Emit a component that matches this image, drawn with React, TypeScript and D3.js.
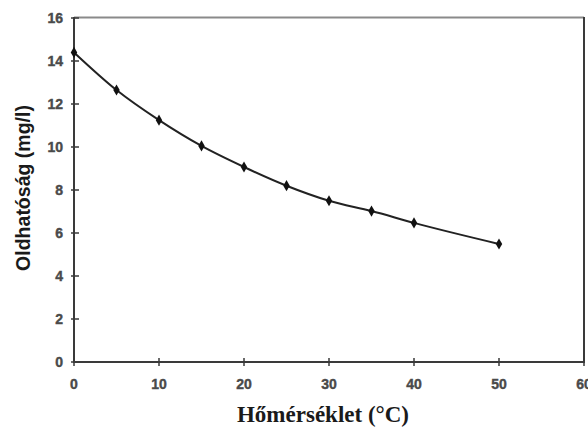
import React, { useRef, useEffect } from 'react';
import * as d3 from 'd3';

// Oxygen solubility in water vs temperature
const temps = [0, 5, 10, 15, 20, 25, 30, 35, 40, 50];
const solubility = [14.4, 12.65, 11.25, 10.05, 9.07, 8.2, 7.5, 7.02, 6.47, 5.49];
const xTicks = [0, 10, 20, 30, 40, 50, 60];
const yTicks = [0, 2, 4, 6, 8, 10, 12, 14, 16];

const width = 588;
const height = 428;

const App = () => {
  const svgRef = useRef<SVGSVGElement | null>(null);

  useEffect(() => {
    if (!svgRef.current) return;
    const svg = d3.select(svgRef.current);
    svg.selectAll('*').remove();

    const margin = { top: 18, right: 4, bottom: 66, left: 74 };
    const innerWidth = width - margin.left - margin.right;
    const innerHeight = height - margin.top - margin.bottom;

    const x = d3.scaleLinear().domain([0, 60]).range([0, innerWidth]);
    const y = d3.scaleLinear().domain([0, 16]).range([innerHeight, 0]);

    const g = svg.append('g').attr('transform', `translate(${margin.left}, ${margin.top})`);

    // frame: top (light) and right (dark)
    g.append('line')
      .attr('x1', 0).attr('x2', innerWidth)
      .attr('y1', -0.5).attr('y2', -0.5)
      .attr('stroke', '#8a8a8a').attr('stroke-width', 2);
    g.append('line')
      .attr('x1', innerWidth).attr('x2', innerWidth)
      .attr('y1', -1).attr('y2', innerHeight)
      .attr('stroke', '#3a3a3a').attr('stroke-width', 2);

    const tickFont = 'Liberation Sans, Arial, sans-serif';

    // y axis
    const yAxis = g.append('g');
    yAxis.append('line')
      .attr('x1', 0).attr('x2', 0).attr('y1', -1).attr('y2', innerHeight + 1)
      .attr('stroke', '#3a3a3a').attr('stroke-width', 2);
    yAxis.selectAll('.ytick')
      .data(yTicks)
      .enter()
      .append('line')
      .attr('x1', -3).attr('x2', 5)
      .attr('y1', d => y(d)).attr('y2', d => y(d))
      .attr('stroke', '#3a3a3a').attr('stroke-width', 1.5);
    yAxis.selectAll('.ylabel')
      .data(yTicks)
      .enter()
      .append('text')
      .attr('x', -11)
      .attr('y', d => y(d))
      .attr('dy', '0.36em')
      .attr('text-anchor', 'end')
      .attr('font-family', tickFont)
      .attr('font-weight', 'bold')
      .attr('font-size', 14)
      .attr('fill', '#4a4a4a')
      .attr('stroke', '#4a4a4a')
      .attr('stroke-width', 0.4)
      .text(d => d);

    // x axis
    const xAxis = g.append('g').attr('transform', `translate(0, ${innerHeight})`);
    xAxis.append('line')
      .attr('x1', -1).attr('x2', innerWidth + 1).attr('y1', 0).attr('y2', 0)
      .attr('stroke', '#3a3a3a').attr('stroke-width', 2);
    xAxis.selectAll('.xtick')
      .data(xTicks)
      .enter()
      .append('line')
      .attr('x1', d => x(d)).attr('x2', d => x(d))
      .attr('y1', -4).attr('y2', 4)
      .attr('stroke', '#3a3a3a').attr('stroke-width', 1.5);
    xAxis.selectAll('.xlabel')
      .data(xTicks)
      .enter()
      .append('text')
      .attr('x', d => x(d))
      .attr('y', 27)
      .attr('text-anchor', 'middle')
      .attr('font-family', tickFont)
      .attr('font-weight', 'bold')
      .attr('font-size', 14)
      .attr('fill', '#4a4a4a')
      .attr('stroke', '#4a4a4a')
      .attr('stroke-width', 0.4)
      .text(d => d);

    // axis titles
    g.append('text')
      .attr('x', innerWidth / 2 - 6)
      .attr('y', innerHeight + 60)
      .attr('text-anchor', 'middle')
      .attr('font-family', 'Liberation Serif, Times New Roman, serif')
      .attr('font-weight', 'bold')
      .attr('font-size', 23)
      .attr('fill', '#1a1a1a')
      .text('Hőmérséklet (°C)');

    g.append('text')
      .attr('transform', 'rotate(-90)')
      .attr('x', -innerHeight / 2 + 2)
      .attr('y', -44)
      .attr('text-anchor', 'middle')
      .attr('font-family', 'Liberation Sans, Arial, sans-serif')
      .attr('font-weight', 'bold')
      .attr('font-size', 19.5)
      .attr('fill', '#1a1a1a')
      .text('Oldhatóság (mg/l)');

    // data line
    const points = temps.map((t, i) => [t, solubility[i]] as [number, number]);
    const line = d3.line<[number, number]>()
      .x(d => x(d[0]))
      .y(d => y(d[1]))
      .curve(d3.curveMonotoneX);

    g.append('path')
      .datum(points)
      .attr('d', line)
      .attr('fill', 'none')
      .attr('stroke', '#222')
      .attr('stroke-width', 2);

    g.selectAll('.marker')
      .data(points)
      .enter()
      .append('path')
      .attr('transform', d => `translate(${x(d[0])}, ${y(d[1])})`)
      .attr('d', d3.symbol().type(d3.symbolDiamond).size(36)())
      .attr('fill', '#111');
  }, []);

  return (
    <svg
      ref={svgRef}
      width={width}
      height={height}
      style={{ position: 'absolute', left: 0, top: 0, background: '#fff' }}
    />
  );
};

export default App;
